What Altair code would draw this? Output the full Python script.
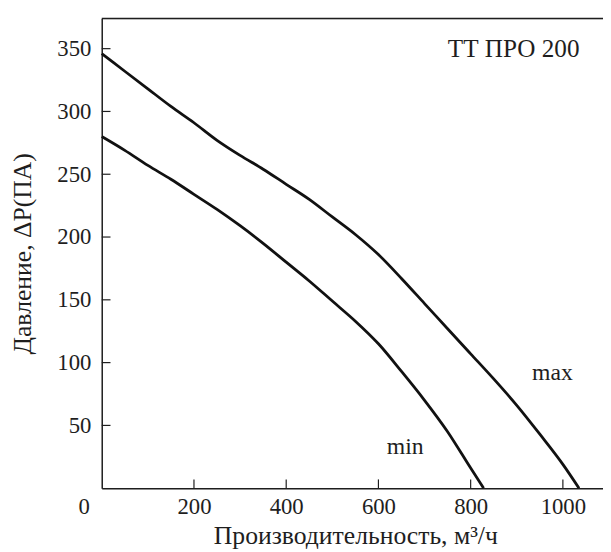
import altair as alt
import pandas as pd

# Data
flow_max = [0, 50, 100, 150, 200, 250, 300, 350, 400, 450, 500, 550, 600, 650, 700, 750, 800, 850, 900, 950, 1000, 1035]
press_max = [346, 332, 318, 304, 291, 277, 265, 254, 242, 230, 216, 202, 186, 167, 147, 127, 107, 87, 66, 43, 19, 0]
flow_min = [0, 50, 100, 150, 200, 250, 300, 350, 400, 450, 500, 550, 600, 650, 700, 750, 800, 828]
press_min = [280, 269, 257, 246, 234, 222, 209, 195, 180, 165, 149, 133, 115, 93, 70, 45, 16, 0]

x_ticks = [200, 400, 600, 800, 1000]
y_ticks = [50, 100, 150, 200, 250, 300, 350]

X_MAX = 1087
Y_MAX = 374

FONT = "Liberation Serif"
INK = "#1e1e1e"

df = pd.concat([
    pd.DataFrame({"q": flow_max, "p": press_max, "s": "max"}),
    pd.DataFrame({"q": flow_min, "p": press_min, "s": "min"}),
])

xs = alt.Scale(domain=[0, X_MAX], nice=False, zero=False)
ys = alt.Scale(domain=[0, Y_MAX], nice=False, zero=False)

lines = alt.Chart(df).mark_line(color="#111111", strokeWidth=2.8, interpolate="monotone").encode(
    x=alt.X("q:Q", scale=xs,
            axis=alt.Axis(values=x_ticks, format="d", ticks=False, grid=False,
                          labelFont=FONT, labelFontSize=23, labelColor=INK,
                          labelPadding=8, domainColor=INK, domainWidth=1.5,
                          title="Производительность, м³/ч", titleFont=FONT,
                          titleFontSize=26, titleFontWeight="normal", titleColor=INK,
                          titleBaseline="alphabetic", titleY=56, titleX=257)),
    y=alt.Y("p:Q", scale=ys,
            axis=alt.Axis(values=y_ticks, format="d", ticks=False, grid=False,
                          labelFont=FONT, labelFontSize=23, labelColor=INK,
                          labelPadding=11, domainColor=INK, domainWidth=1.5,
                          title="Давление, ΔP(ПА)", titleFont=FONT,
                          titleFontSize=26, titleFontWeight="normal", titleColor=INK,
                          titleAngle=-90, titleBaseline="alphabetic", titleAlign="center",
                          titleX=-72, titleY=238)),
    detail="s:N",
)

xt = alt.Chart(pd.DataFrame({"t": x_ticks})).mark_rule(color=INK, strokeWidth=1.2).encode(
    x=alt.X("t:Q", scale=xs), y=alt.datum(0, scale=ys), y2=alt.datum(7)
)
yt = alt.Chart(pd.DataFrame({"t": y_ticks})).mark_rule(color=INK, strokeWidth=1.2).encode(
    y=alt.Y("t:Q", scale=ys), x=alt.datum(0, scale=xs), x2=alt.datum(19)
)
top = alt.Chart(pd.DataFrame({"t": [Y_MAX]})).mark_rule(color=INK, strokeWidth=1.5).encode(
    y=alt.Y("t:Q", scale=ys)
)

label_q = [0, 933, 658, 1036]
label_p = [0, 86, 27, 343]
label_txt = ["0", "max", "min", "ТТ ПРО 200"]
labels = pd.DataFrame({"q": label_q, "p": label_p, "txt": label_txt})


def txt(i, **kw):
    return alt.Chart(labels.iloc[[i]]).mark_text(font=FONT, color=INK, **kw).encode(
        x=alt.X("q:Q", scale=xs), y=alt.Y("p:Q", scale=ys), text="txt:N"
    )


zero_lbl = txt(0, fontSize=23, align="right", baseline="top", dx=-12, dy=8)
ann_max = txt(1, fontSize=24, align="left", baseline="alphabetic")
ann_min = txt(2, fontSize=24, align="center", baseline="alphabetic")
ann_title = txt(3, fontSize=25.5, align="right", baseline="alphabetic")

chart = alt.layer(top, xt, yt, lines, zero_lbl, ann_max, ann_min, ann_title).properties(
    width=508, height=476,
    autosize=alt.AutoSizeParams(type="none"),
    padding={"left": 95, "top": 7, "right": 0, "bottom": 61},
).configure_view(stroke=None).configure(background="white")

chart.save("out.html", embed_options={"renderer": "svg", "actions": False})
